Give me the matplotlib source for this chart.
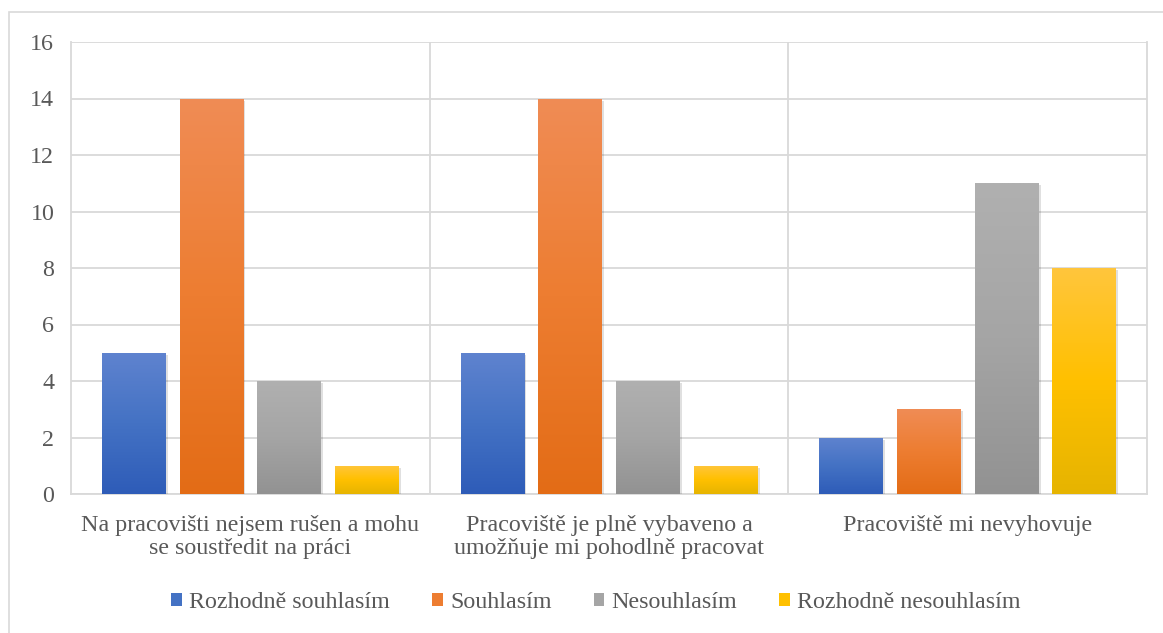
import matplotlib.pyplot as plt
import matplotlib.patheffects as pe
from matplotlib.colors import LinearSegmentedColormap
from matplotlib.patches import Patch, Rectangle
import numpy as np

plt.rcParams['font.family'] = ['Liberation Serif', 'DejaVu Serif']

# data
categories = ['Na pracovišti nejsem rušen a mohu\nse soustředit na práci',
              'Pracoviště je plně vybaveno a\numožňuje mi pohodlně pracovat',
              'Pracoviště mi nevyhovuje']
series_names = ['Rozhodně souhlasím', 'Souhlasím', 'Nesouhlasím', 'Rozhodně nesouhlasím']
rozhodne_souhlasim = [5, 5, 2]
souhlasim = [14, 14, 3]
nesouhlasim = [4, 4, 11]
rozhodne_nesouhlasim = [1, 1, 8]
values = [rozhodne_souhlasim, souhlasim, nesouhlasim, rozhodne_nesouhlasim]

# gradient colours (top -> middle -> bottom)
gradients = [
    ['#5f83cf', '#4472c4', '#2e5cb8'],
    ['#f08c55', '#ed7d31', '#e36c16'],
    ['#b0b0b0', '#a5a5a5', '#929292'],
    ['#ffc63d', '#ffc000', '#e6b400'],
]
solid = ['#4472c4', '#ed7d31', '#a5a5a5', '#ffc000']
text_col = '#595959'
grid_col = '#d9d9d9'
fsize = 17.3

fig = plt.figure(figsize=(11.63, 6.33), dpi=100)
ax = fig.add_axes([71 / 1163, 1 - 494 / 633, 1076 / 1163, 452 / 633])

# outer chart border
fig.patches.append(Rectangle((9 / 1163, -0.01), 1.0, 1 - 12 / 633 + 0.01,
                             transform=fig.transFigure, fill=False,
                             edgecolor=grid_col, lw=1.2))

x = np.arange(len(categories))
step = 0.2166
width = 0.178
for i, vals in enumerate(values):
    pos = x + (i - 1.5) * step
    bars = ax.bar(pos, vals, width, color=solid[i], zorder=3,
                  path_effects=[pe.SimplePatchShadow(offset=(1.5, -1.5), shadow_rgbFace='#000000', alpha=0.12),
                                pe.Normal()])
    cmap = LinearSegmentedColormap.from_list('g%d' % i, gradients[i][::-1])
    grad = np.linspace(0, 1, 256).reshape(-1, 1)
    for b in bars:
        bx, bw, bh = b.get_x(), b.get_width(), b.get_height()
        im = ax.imshow(grad, cmap=cmap, origin='lower', aspect='auto',
                       extent=(bx, bx + bw, 0, bh), zorder=4)
        im.set_clip_path(b)

ax.set_xlim(-0.5, 2.5)
ax.set_ylim(0, 16)
ax.set_yticks(np.arange(0, 17, 2))
ax.set_xticks(x)
ax.set_xticklabels(categories, linespacing=1.15)

# grid: horizontal lines and category separators
ax.grid(axis='y', color=grid_col, lw=1.3, zorder=0)
for sep in [0.5, 1.5]:
    ax.axvline(sep, color=grid_col, lw=1.3, zorder=0)
for s in ['left', 'right', 'bottom']:
    ax.spines[s].set_color(grid_col)
    ax.spines[s].set_linewidth(1.3)
ax.spines['top'].set_visible(False)

ax.tick_params(axis='both', length=0, labelsize=fsize, colors=text_col)
ax.tick_params(axis='y', pad=12)
ax.tick_params(axis='x', pad=15)

handles = [Patch(facecolor=c) for c in solid]
fig.legend(handles, series_names, loc='center', bbox_to_anchor=(0.5125, 1 - 603 / 633),
           ncol=4, frameon=False, fontsize=fsize, labelcolor=text_col,
           handlelength=0.45, handleheight=0.45, handletextpad=0.3, columnspacing=1.75)

fig.savefig('out.png', dpi=100)
